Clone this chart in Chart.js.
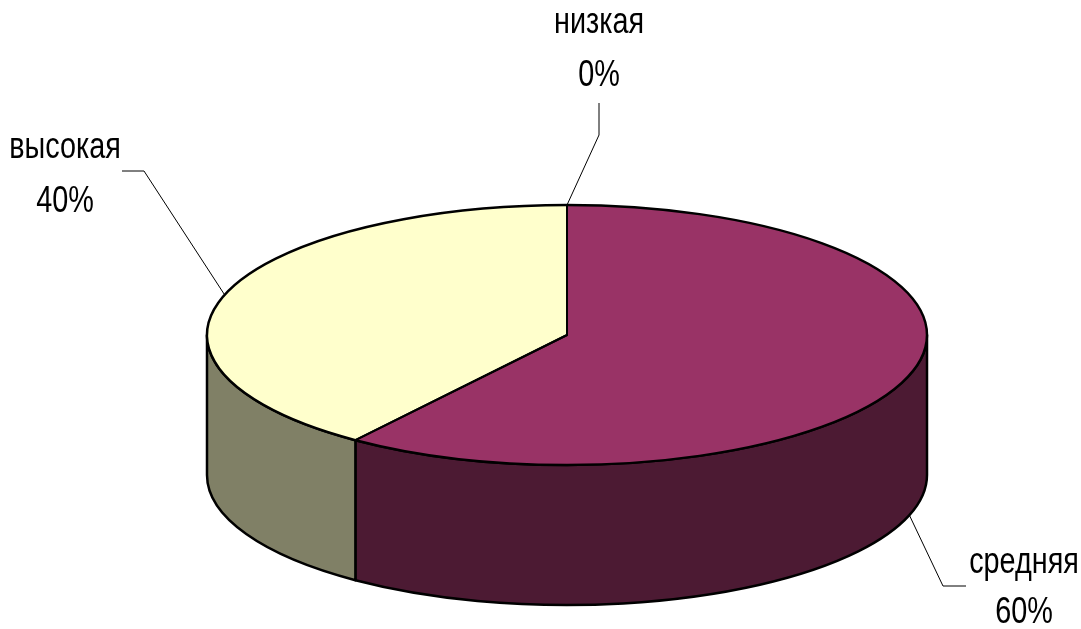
<!DOCTYPE html>
<html><head><meta charset="utf-8">
<script src="https://cdn.jsdelivr.net/npm/chart.js@4.4.1/dist/chart.umd.min.js"></script>
<style>html,body{margin:0;padding:0;background:#fff}#wrap{width:1081px;height:629px;position:relative}</style>
</head><body><div id="wrap"><canvas id="c"></canvas></div>
<script>
// ---- data ----
const categories = ['низкая', 'средняя', 'высокая'];
const values = [0, 60, 40];
const percentLabels = ['0%', '60%', '40%'];

// ---- styles ----
const topColors = ['#6666CC', '#993366', '#FFFFCC'];
const sideColors = ['#333366', '#4C1A33', '#808066'];
const GEO = {cx: 567, cy: 335, rx: 360, ry: 130, depth: 140};
const FONT = "36px 'Liberation Sans', Arial, sans-serif";
const NARROW = 0.80;
// label text centre x, two baselines, leader polyline from text toward the slice anchor
const labelLayout = [
  {x: 599, b1: 33, b2: 86, pts: [[599, 103], [599, 135]]},
  {x: 1024, b1: 573, b2: 623, pts: [[966, 586], [943, 586]]},
  {x: 65, b1: 158, b2: 212, pts: [[122, 171], [144, 171]]}
];

function ept(a, dy) {
  return [GEO.cx + GEO.rx * Math.cos(a), GEO.cy + GEO.ry * Math.sin(a) + (dy || 0)];
}
function fillNarrow(ctx, t, x, y) {
  ctx.save();
  ctx.translate(x, y);
  ctx.scale(NARROW, 1);
  ctx.fillText(t, 0, 0);
  ctx.restore();
}

const pie3d = {
  id: 'pie3d',
  beforeDatasetsDraw(chart) {
    const ctx = chart.ctx;
    const meta = chart.getDatasetMeta(0);
    const {cx, cy, rx, ry, depth} = GEO;
    ctx.save();
    ctx.lineWidth = 2.5;
    ctx.strokeStyle = '#000';
    ctx.lineJoin = 'round';
    meta.data.forEach((arc, i) => {
      const s = arc.startAngle, e = arc.endAngle;
      const a0 = Math.max(s, 0), a1 = Math.min(e, Math.PI);
      if (a1 <= a0) return;
      ctx.beginPath();
      ctx.ellipse(cx, cy, rx, ry, 0, a0, a1, false);
      const p = ept(a1, depth);
      ctx.lineTo(p[0], p[1]);
      ctx.ellipse(cx, cy + depth, rx, ry, 0, a1, a0, true);
      ctx.closePath();
      ctx.fillStyle = sideColors[i];
      ctx.fill();
      ctx.stroke();
    });
    ctx.restore();
    // map the library's circle onto the ellipse top face
    const a = meta.data[0];
    ctx.save();
    ctx.translate(cx, cy);
    ctx.scale(rx / a.outerRadius, ry / a.outerRadius);
    ctx.translate(-a.x, -a.y);
  },
  afterDatasetsDraw(chart) {
    const ctx = chart.ctx;
    ctx.restore();
    const meta = chart.getDatasetMeta(0);
    const {cx, cy, rx, ry, depth} = GEO;
    ctx.save();
    ctx.strokeStyle = '#000';
    ctx.lineJoin = 'round';
    meta.data.forEach((arc) => {
      const s = arc.startAngle, e = arc.endAngle;
      if (e - s <= 1e-6) return;
      ctx.lineWidth = 2.5;
      ctx.beginPath();
      ctx.ellipse(cx, cy, rx, ry, 0, s, e, false);
      ctx.stroke();
      ctx.lineWidth = 2;
      ctx.beginPath();
      const p0 = ept(s), p1 = ept(e);
      ctx.moveTo(p0[0], p0[1]);
      ctx.lineTo(cx, cy);
      ctx.lineTo(p1[0], p1[1]);
      ctx.stroke();
    });
    ctx.font = FONT;
    ctx.fillStyle = '#000';
    ctx.textAlign = 'center';
    ctx.textBaseline = 'alphabetic';
    meta.data.forEach((arc, i) => {
      const L = labelLayout[i];
      const mid = (arc.startAngle + arc.endAngle) / 2;
      const front = Math.sin(mid) > 0;
      const anc = ept(mid, front ? depth : 0);
      fillNarrow(ctx, categories[i], L.x, L.b1);
      fillNarrow(ctx, percentLabels[i], L.x, L.b2);
      ctx.lineWidth = 1;
      ctx.beginPath();
      ctx.moveTo(L.pts[0][0], L.pts[0][1]);
      for (let k = 1; k < L.pts.length; k++) ctx.lineTo(L.pts[k][0], L.pts[k][1]);
      ctx.lineTo(anc[0], anc[1]);
      ctx.stroke();
    });
    ctx.restore();
  }
};

new Chart(document.getElementById('c'), {
  type: 'pie',
  data: {
    labels: categories,
    datasets: [{
      data: values,
      backgroundColor: topColors,
      borderWidth: 0,
      clip: false
    }]
  },
  options: {
    responsive: true,
    maintainAspectRatio: false,
    animation: false,
    events: [],
    layout: {padding: 0},
    plugins: {legend: {display: false}, tooltip: {enabled: false}}
  },
  plugins: [pie3d]
});
</script>
</body></html>
